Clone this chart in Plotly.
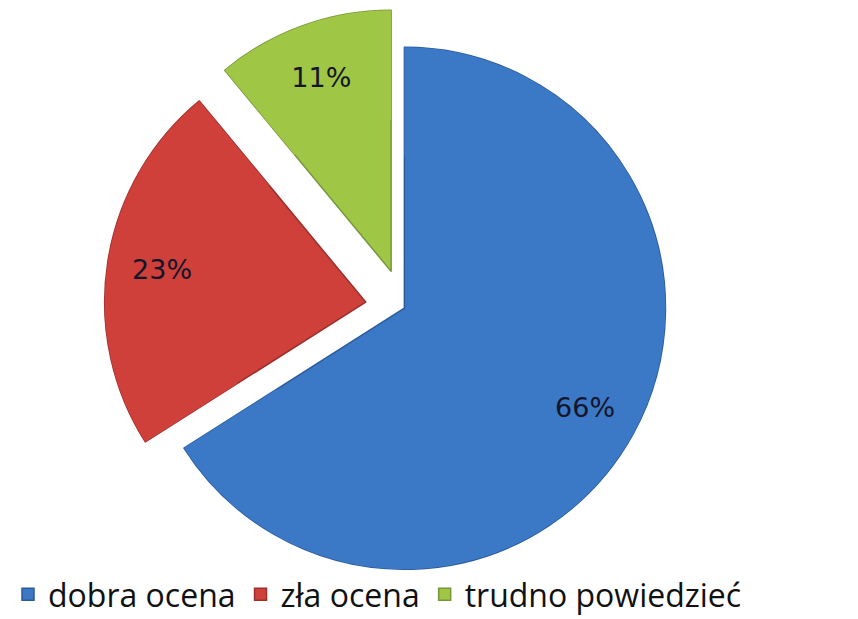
import plotly.graph_objects as go

labels = ["dobra ocena", "zła ocena", "trudno powiedzieć"]
values = [66, 23, 11]
colors = ["#3b78c6", "#cf403b", "#a0c645"]
edge_colors = ["#2a5a98", "#9c2f2b", "#76963a"]
pulls = [0, 0.15, 0.15]

dom = dict(x=[0.092, 0.832], y=[0.03, 1.0])

fig = go.Figure()

# full pie underneath (fills the hole of the labelled ring on top)
fig.add_trace(go.Pie(
    labels=labels,
    values=values,
    sort=False,
    direction="clockwise",
    rotation=0,
    pull=pulls,
    marker=dict(colors=colors, line=dict(color=edge_colors, width=1.5)),
    textinfo="none",
    domain=dom,
    showlegend=True,
    hoverinfo="label+percent",
))

# ring on top only to push the percentage labels outward
fig.add_trace(go.Pie(
    labels=labels,
    values=values,
    sort=False,
    direction="clockwise",
    rotation=0,
    pull=pulls,
    hole=0.58,
    marker=dict(colors=colors, line=dict(color=colors, width=0)),
    texttemplate="%{percent:.0%}",
    textposition="inside",
    insidetextorientation="horizontal",
    textfont=dict(family="DejaVu Sans, sans-serif", size=27, color="#15152a"),
    domain=dom,
    showlegend=False,
    hoverinfo="skip",
))

fig.update_layout(
    width=858,
    height=619,
    margin=dict(l=0, r=0, t=0, b=0),
    paper_bgcolor="white",
    plot_bgcolor="white",
    showlegend=True,
    legend=dict(
        orientation="h",
        x=0.0,
        y=0.008,
        xanchor="left",
        yanchor="bottom",
        font=dict(family="Open Sans, sans-serif", size=32, color="#111111"),
        itemwidth=30,
        bgcolor="rgba(0,0,0,0)",
    ),
)

fig.write_html("out.html")
